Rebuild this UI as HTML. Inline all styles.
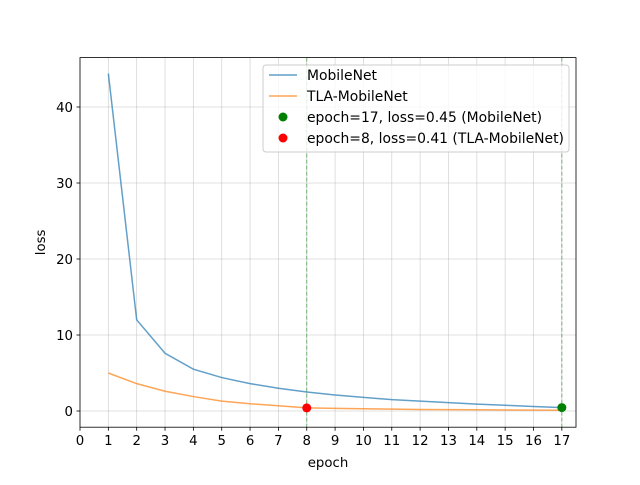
<!DOCTYPE html>
<html><head><meta charset="utf-8"><style>
body{margin:0;background:#fff}
svg{font-family:"DejaVu Sans","Liberation Sans",sans-serif}
</style></head><body>
<svg id="chart" width="640" height="480" xmlns="http://www.w3.org/2000/svg"></svg>
<script>
const epochs=[1,2,3,4,5,6,7,8,9,10,11,12,13,14,15,16,17];
const mobilenet=[44.4,12.0,7.6,5.5,4.4,3.6,3.0,2.5,2.1,1.8,1.5,1.3,1.1,0.9,0.75,0.6,0.45];
const tla=[5.0,3.6,2.6,1.9,1.3,0.95,0.7,0.41,0.35,0.3,0.25,0.2,0.18,0.16,0.14,0.12,0.1];
const xTicks=[0,1,2,3,4,5,6,7,8,9,10,11,12,13,14,15,16,17];
const yTicks=[0,10,20,30,40];
const best1=[17,0.45], best2=[8,0.41];
const L=80,R=576,T=57.6,B=427.2;
const xmin=0,xmax=17.5,ymin=-2.13,ymax=46.5;
const sx=v=>L+(v-xmin)/(xmax-xmin)*(R-L);
const sy=v=>B-(v-ymin)/(ymax-ymin)*(B-T);
const svg=document.getElementById('chart');
const NS='http://www.w3.org/2000/svg';
function mk(tag,at,parent){const e=document.createElementNS(NS,tag);for(const k in at)e.setAttribute(k,at[k]);(parent||svg).appendChild(e);return e;}
let e;
xTicks.forEach(t=>{
 e=mk('line',{x1:sx(t),x2:sx(t),y1:T,y2:B,stroke:'#b0b0b0','stroke-width':0.8,'stroke-opacity':0.5});
 
 e=mk('line',{x1:sx(t),x2:sx(t),y1:B,y2:B+3.5,stroke:'#000','stroke-width':0.8});
 
 e=mk('text',{x:sx(t),y:B+18,'text-anchor':'middle','font-size':13.3});e.textContent=t;
 
});
yTicks.forEach(t=>{
 e=mk('line',{x1:L,x2:R,y1:sy(t),y2:sy(t),stroke:'#b0b0b0','stroke-width':0.8,'stroke-opacity':0.5});
 
 e=mk('line',{x1:L-3.5,x2:L,y1:sy(t),y2:sy(t),stroke:'#000','stroke-width':0.8});
 
 e=mk('text',{x:L-7,y:sy(t)+5,'text-anchor':'end','font-size':13.3});e.textContent=t;
 
});
[best2[0],best1[0]].forEach(v=>{
 e=mk('line',{x1:sx(v),x2:sx(v),y1:T,y2:B,stroke:'green','stroke-width':1,'stroke-dasharray':'4,2','stroke-opacity':0.5});
 
});
function line(vals,color,name){
 e=mk('polyline',{points:epochs.map((x,i)=>sx(x)+','+sy(vals[i])).join(' '),fill:'none',stroke:color,'stroke-width':1.5,'stroke-opacity':0.7});
 
}
line(mobilenet,'#1f77b4','mobilenet-line');
line(tla,'#ff7f0e','tla-mobilenet-line');
e=mk('circle',{cx:sx(best1[0]),cy:sy(best1[1]),r:4.5,fill:'green'});

e=mk('circle',{cx:sx(best2[0]),cy:sy(best2[1]),r:4.5,fill:'red'});

e=mk('rect',{x:L,y:T,width:R-L,height:B-T,fill:'none',stroke:'#000','stroke-width':0.8});

e=mk('text',{x:(L+R)/2,y:467,'text-anchor':'middle','font-size':13.3});e.textContent='epoch';

e=mk('text',{x:0,y:0,'text-anchor':'middle','font-size':13.3,transform:'translate(45,'+((T+B)/2)+') rotate(-90)'});e.textContent='loss';

const lg=mk('g',{});

mk('rect',{x:263,y:65,width:306,height:87,rx:3,fill:'#fff','fill-opacity':0.8,stroke:'#ccc'},lg);
const items=[['line','#1f77b4','MobileNet'],['line','#ff7f0e','TLA-MobileNet'],['dot','green','epoch=17, loss=0.45 (MobileNet)'],['dot','red','epoch=8, loss=0.41 (TLA-MobileNet)']];
items.forEach((it,i)=>{
 const y=75+i*21;
 const g=mk('g',{},lg);
 
 if(it[0]=='line')mk('line',{x1:269,x2:297,y1:y,y2:y,stroke:it[1],'stroke-width':1.5,'stroke-opacity':0.7},g);
 else mk('circle',{cx:283,cy:y,r:4.5,fill:it[1]},g);
 const t=mk('text',{x:307,y:y+5,'font-size':13.9},g);t.textContent=it[2];
});
</script>
</body></html>
